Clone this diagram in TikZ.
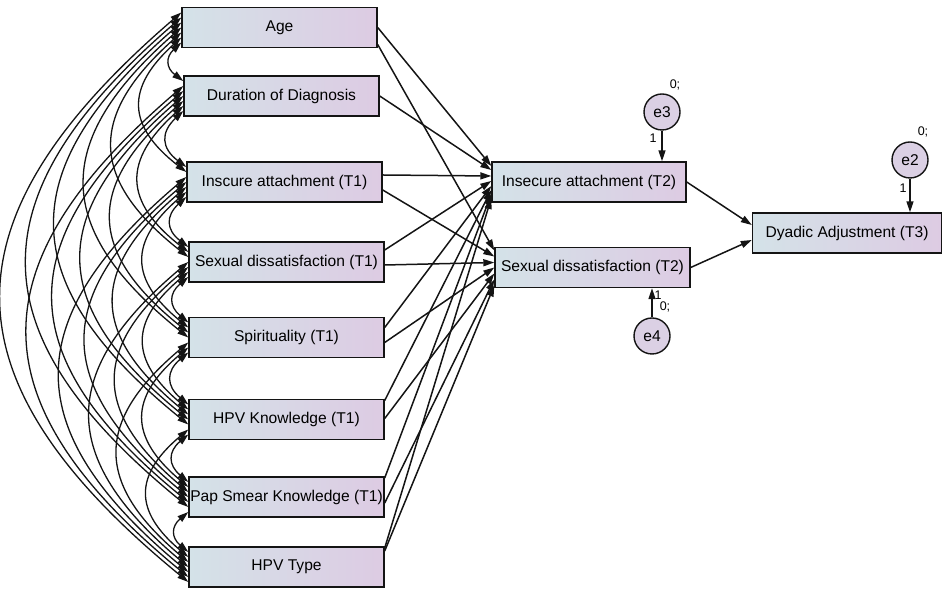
\documentclass[tikz,border=0pt]{standalone}
\usepackage{fontspec}
\setmainfont{Liberation Sans}
\usetikzlibrary{arrows.meta}
\definecolor{boxleft}{RGB}{212,226,232}
\definecolor{boxright}{RGB}{221,203,227}
\definecolor{errfill}{RGB}{219,208,228}
\definecolor{ink}{RGB}{20,20,20}
\tikzset{
  >={Triangle[length=11pt,width=7pt]},
  var/.style={draw=ink, line width=1.4pt, left color=boxleft, right color=boxright,
    minimum width=195pt, minimum height=40pt, inner sep=1pt},
  err/.style={circle, draw=ink, line width=1.4pt, fill=errfill,
    minimum size=36pt, inner sep=0pt},
  reg/.style={->, draw=ink, line width=1.5pt},
  cov/.style={<->, draw=ink, line width=1.3pt}
}
\begin{document}
\begin{tikzpicture}[x=1pt,y=1pt]
  \useasboundingbox (0,0) rectangle (943,591);
  \fontsize{15.6}{18}\selectfont
  % exogenous variables (T1)
  \node[var] (x1) at (279.5,563.5) {Age};
  \node[var] (x2) at (281.5,495)   {Duration of Diagnosis};
  \node[var] (x3) at (284.5,409)   {Inscure attachment (T1)};
  \node[var] (x4) at (286.5,329)   {Sexual dissatisfaction (T1)};
  \node[var] (x5) at (286.5,253.5) {Spirituality (T1)};
  \node[var] (x6) at (286.5,171.5) {HPV Knowledge (T1)};
  \node[var] (x7) at (286.5,94)    {Pap Smear Knowledge (T1)};
  \node[var] (x8) at (286.5,24)    {HPV Type};

  % mediators and outcome
  \node[var, minimum width=194pt] (ia2) at (589,409) {Insecure attachment (T2)};
  \node[var] (sd2) at (592.5,323.5) {Sexual dissatisfaction (T2)};
  \node[var, minimum width=189pt] (dyad) at (847,358) {Dyadic Adjustment (T3)};

  \node[err] (e3) at (662,479) {e3};
  \node[err] (e4) at (652,255) {e4};
  \node[err] (e2) at (910,431) {e2};

  \fontsize{12.5}{14}\selectfont
  \node (e3v) at (675,506) {0;};
  \node (e3w) at (653,453) {1};
  \node (e4w) at (658,296) {1};
  \node (e4v) at (665,284) {0;};
  \node (e2v) at (923,459) {0;};
  \node (e2w) at (903,403) {1};

  % covariances
  \foreach \i [evaluate=\i as \k using int(\i+1)] in {1,...,7}{
    \foreach \j in {\k,...,8}{
      \pgfmathsetmacro\sa{(4-(\i+8-\j))*5}
      \pgfmathsetmacro\sb{(4-(\j-\i))*5}
      \draw[cov] ([yshift=\sa pt]x\i.west) to[bend right=50, looseness=1.43] ([yshift=\sb pt]x\j.west);
    }
  }

  % regressions
  \foreach \s/\a/\t/\b in {x1/0/ia2/16, x1/-17/sd2/17, x2/0/ia2/12,
      x3/7/ia2/6, x3/-8/sd2/11, x4/12/ia2/1, x4/-3/sd2/5,
      x5/10/ia2/-4, x5/-5/sd2/0, x6/19/ia2/-8, x6/1/sd2/-6,
      x7/19/ia2/-12, x7/-6/sd2/-12, x8/19/ia2/-16, x8/16/sd2/-18}
    \draw[reg] ([yshift=\a pt]\s.east) -- ([yshift=\b pt]\t.west);

  \draw[reg] (ia2.east) -- ([yshift=8pt]dyad.west);
  \draw[reg] (sd2.east) -- ([yshift=-7pt]dyad.west);

  \draw[reg] (e3) -- (e3 |- ia2.north);
  \draw[reg] (e4) -- (e4 |- sd2.south);
  \draw[reg] (e2) -- (e2 |- dyad.north);
\end{tikzpicture}
\end{document}
